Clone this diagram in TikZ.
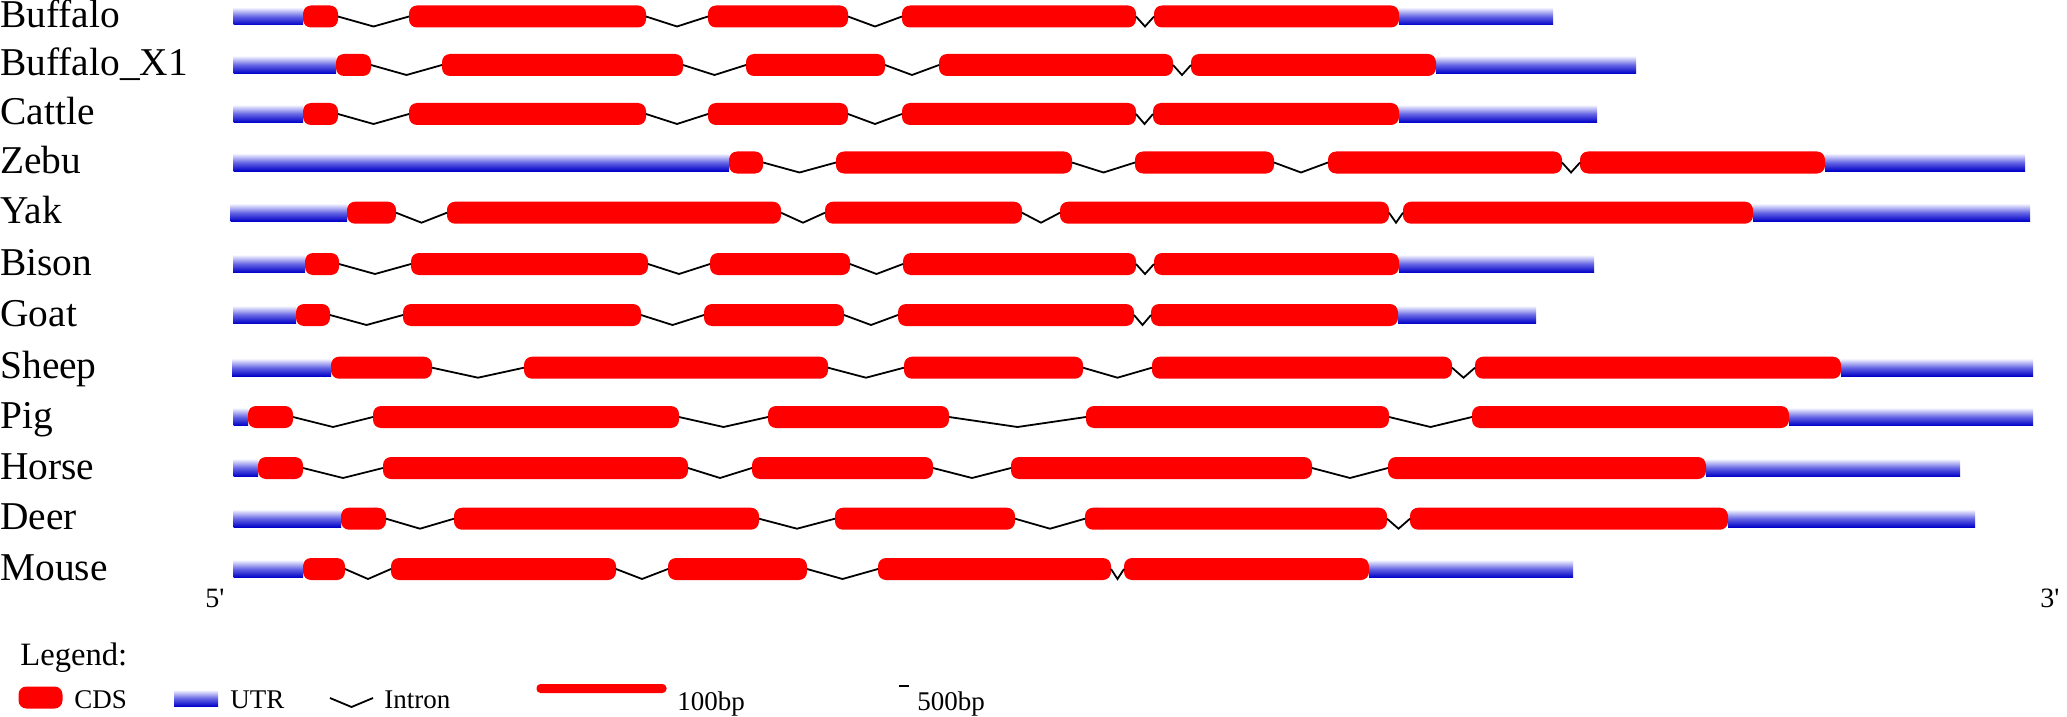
\documentclass[tikz,border=0pt]{standalone}
\usepackage{fontspec}
\setmainfont{Liberation Serif}
\usetikzlibrary{calc,backgrounds}
\definecolor{cdsred}{RGB}{255,0,0}
\definecolor{utrtop}{RGB}{240,240,255}
\definecolor{utrmid}{RGB}{100,100,228}
\definecolor{utrbot}{RGB}{0,0,200}
\tikzset{
  cds/.style={fill=cdsred, draw=none, rounded corners=4pt, inner sep=0pt, outer sep=0pt, minimum height=11pt},
  utr/.style={top color=utrtop, bottom color=utrbot, middle color=utrmid, draw=none},
  intron/.style={draw=black, line width=0.9pt},
  rowlabel/.style={anchor=base west, inner sep=0pt, font=\fontsize{19.7pt}{22pt}\selectfont},
  endlabel/.style={anchor=base west, inner sep=0pt, font=\fontsize{14pt}{16pt}\selectfont},
  leglabel/.style={anchor=base west, inner sep=0pt, font=\fontsize{13.5pt}{15pt}\selectfont},
  legtitle/.style={anchor=base west, inner sep=0pt, font=\fontsize{16.3pt}{18pt}\selectfont},
}
\newcommand\generow[6]{%
  \node[rowlabel] (#1-lab) at (0,#3+11) {#2};
  \foreach \s/\e [count=\i] in {#5} {%
    \node[cds, minimum width={(\e-\s)*0.5pt}] (#1-\i) at ({(\s+\e)/2},#3) {};
    \xdef\gnex{\i}\xdef\glast{\e}%
    \ifnum\i=1 \xdef\gfirst{\s}\fi
  }
  \begin{scope}[on background layer]
    \shade[utr] (#4,#3-8.5) rectangle (\gfirst,#3+8.5);
    \shade[utr] (\glast,#3-8.5) rectangle (#6,#3+8.5);
  \end{scope}
  \foreach \i [remember=\i as \j (initially 1)] in {2,...,\gnex} {%
    \draw[intron] (#1-\j.east) -- ($(#1-\j.east)!0.5!(#1-\i.west)+(0,10)$) -- (#1-\i.west);
  }
}
\begin{document}
\begin{tikzpicture}[x=0.5pt,y=-0.5pt]
\useasboundingbox (0,0) rectangle (2067,717);
\generow{buf}{Buffalo}{16.5}{233.5}{303/338, 409/646, 708/848, 902/1136, 1154/1399}{1553}
\generow{bufx}{Buffalo\_X1}{65}{233.5}{336/371, 442/683, 746/885, 939/1173, 1191/1436}{1636}
\generow{cat}{Cattle}{114}{233.5}{303/338, 409/646, 708/848, 902/1136, 1153/1399}{1597}
\generow{zeb}{Zebu}{162.5}{233.5}{729/763, 836/1072, 1135/1274, 1328/1562, 1580/1825}{2025}
\generow{yak}{Yak}{212.7}{230.5}{347/396, 447/781, 825/1022, 1060/1389, 1403/1753}{2030}
\generow{bis}{Bison}{264}{233}{305/339, 411/648, 710/850, 903/1136, 1154/1399}{1594}
\generow{goa}{Goat}{315}{233}{296/330, 403/641, 704/844, 898/1134, 1151/1398}{1536}
\generow{she}{Sheep}{367.7}{232}{331/432, 524/828, 904/1083, 1152/1452, 1475/1841}{2033}
\generow{pig}{Pig}{417}{233.5}{248/293, 373/679, 768/949, 1086/1389, 1472/1789}{2033}
\generow{hor}{Horse}{468}{233.5}{258/303, 383/688, 752/933, 1011/1312, 1388/1706}{1960}
\generow{dee}{Deer}{518.7}{233.5}{341/386, 454/759, 835/1015, 1085/1387, 1410/1728}{1975}
\generow{mou}{Mouse}{569}{233.5}{303/345, 391/616, 668/807, 878/1111, 1124/1369}{1573}
\node[endlabel] (five) at (205,607) {5\textquotesingle};
\node[endlabel] (three) at (2040,607) {3\textquotesingle};
% legend
\node[legtitle] (leg) at (20,665) {Legend:};
\node[cds, minimum width=22pt] (legcds) at (40.5,697.5) {};
\node[leglabel] (legcdst) at (74,708) {CDS};
\shade[utr] (174,690.5) rectangle (218,706.5);
\node[leglabel] (legutrt) at (230,708) {UTR};
\coordinate (li1) at (330,698);
\coordinate (li2) at (373,698);
\draw[intron] (li1) -- ($(li1)!0.5!(li2)+(0,9)$) -- (li2);
\node[leglabel] (legintt) at (384,708) {Intron};
\node[fill=cdsred, rounded corners=2pt, minimum width=65pt, minimum height=4.5pt, inner sep=0pt] (sc100) at (601.5,688.5) {};
\node[leglabel] (sc100t) at (677,710) {100bp};
\node[fill=black, minimum width=5pt, minimum height=1.2pt, inner sep=0pt] (sc500) at (904,686) {};
\node[leglabel] (sc500t) at (917,710) {500bp};
\end{tikzpicture}
\end{document}
